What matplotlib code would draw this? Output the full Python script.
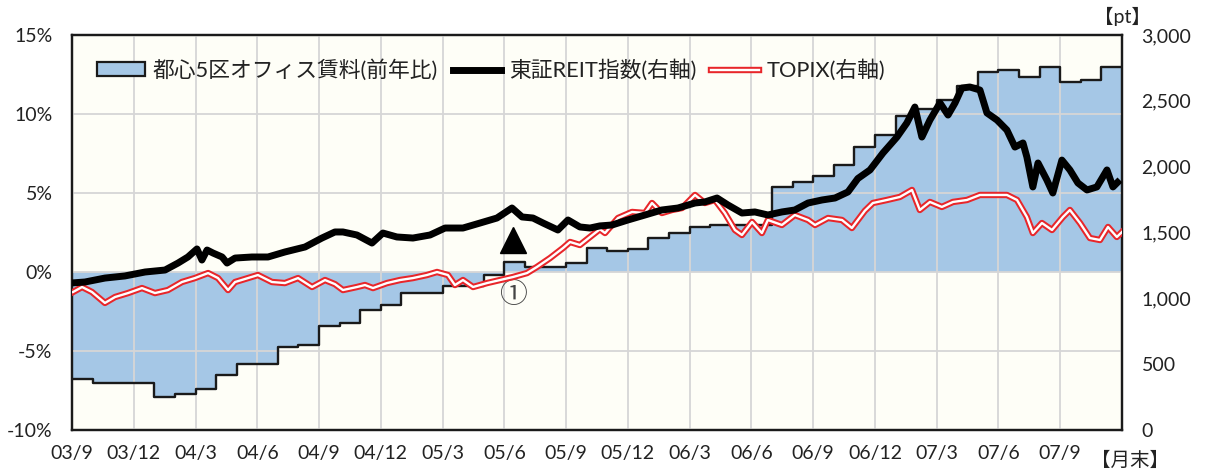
import matplotlib
matplotlib.use("Agg")
import matplotlib.pyplot as plt
from matplotlib.lines import Line2D
from matplotlib.patches import Rectangle
import numpy as np

plt.rcParams['font.family'] = ['Lato', 'Noto Sans CJK JP', 'DejaVu Sans']

# Quarter-end labels along the time axis (month 0 = end of Sep 2003)
quarter_labels = ["03/9", "03/12", "04/3", "04/6", "04/9", "04/12", "05/3", "05/6",
                  "05/9", "05/12", "06/3", "06/6", "06/9", "06/12", "07/3", "07/6", "07/9"]

# Central 5 wards office rent, year-on-year change (%), one value per month
rent_yoy = [-6.8, -7.0, -7.0, -7.0, -7.9, -7.7, -7.4, -6.5, -5.8, -5.8,
            -4.75, -4.6, -3.4, -3.2, -2.4, -2.1, -1.3, -1.35, -0.9, -0.9,
            -0.2, 0.65, 0.3, 0.3, 0.55, 1.5, 1.35, 1.45, 2.15, 2.5,
            2.85, 3.0, 3.0, 3.0, 5.4, 5.7, 6.1, 6.8, 7.9, 8.7,
            9.9, 10.3, 10.9, 11.8, 12.65, 12.8, 12.35, 12.95, 12.0, 12.15,
            12.95]

# TSE REIT index (pt): months elapsed since end of Sep 2003, index level
reit_t = [0.0, 0.63, 1.6, 2.57, 3.55, 4.52, 5.15, 5.63, 6.07, 6.31, 6.56, 6.85,
          7.29, 7.53, 7.92, 8.74, 9.52, 10.34, 11.32, 12.14, 12.77, 13.16, 13.84,
          14.57, 15.1, 15.78, 16.56, 17.39, 18.12, 18.99, 19.82, 20.64, 21.37,
          21.86, 22.39, 22.88, 23.6, 24.09, 24.67, 25.16, 25.64, 26.23, 27.0,
          27.83, 28.65, 29.43, 30.26, 30.74, 31.33, 31.86, 32.54, 33.17, 33.8,
          34.48, 35.11, 35.75, 36.43, 37.06, 37.69, 38.17, 38.76, 39.39, 40.07,
          40.55, 40.94, 41.28, 41.67, 42.16, 42.55, 42.89, 43.22, 43.61, 44.1,
          44.44, 44.93, 45.41, 45.8, 46.19, 46.38, 46.67, 46.92, 47.35, 47.64,
          48.08, 48.47, 48.86, 49.3, 49.78, 50.27, 50.56, 50.9]
reit_v = [1117, 1124, 1154, 1170, 1200, 1215, 1268, 1314, 1375, 1291, 1367, 1344,
          1314, 1268, 1306, 1314, 1314, 1352, 1390, 1458, 1504, 1504, 1481,
          1420, 1496, 1466, 1458, 1481, 1534, 1534, 1572, 1610, 1686,
          1618, 1610, 1572, 1519, 1595, 1542, 1534, 1550, 1557, 1595,
          1633, 1671, 1686, 1724, 1732, 1762, 1709, 1648, 1656, 1633,
          1656, 1671, 1724, 1747, 1762, 1808, 1910, 1975, 2104, 2225,
          2332, 2453, 2225, 2354, 2484, 2392, 2484, 2597, 2605, 2582,
          2408, 2354, 2278, 2149, 2180, 2073, 1846, 2028, 1899, 1800,
          2050, 1975, 1876, 1823, 1846, 1975, 1846, 1899]

# TOPIX (pt): months elapsed since end of Sep 2003, index level
topix_t = [0.05, 0.49, 0.97, 1.6, 2.09, 2.72, 3.4, 4.03, 4.66, 5.34, 5.97, 6.61,
           7.09, 7.58, 7.92, 8.55, 9.03, 9.71, 10.34, 10.98, 11.66, 12.29, 12.77,
           13.16, 13.84, 14.23, 14.62, 15.3, 15.93, 16.56, 17.24, 17.73, 18.26,
           18.6, 18.99, 19.48, 20.16, 20.79, 21.42, 22.1, 22.58, 23.22, 23.85,
           24.19, 24.67, 25.16, 25.64, 25.89, 26.52, 27.2, 27.83, 28.17, 28.65,
           29.14, 29.63, 30.26, 30.74, 31.23, 31.71, 32.2, 32.54, 33.03, 33.51,
           33.8, 34.48, 35.11, 35.75, 36.09, 36.72, 37.4, 37.88, 38.51, 38.9,
           39.58, 40.21, 40.8, 41.18, 41.67, 42.25, 42.79, 43.47, 44.1, 44.73,
           45.41, 45.9, 46.38, 46.67, 47.11, 47.6, 48.13, 48.47, 48.96, 49.44,
           49.93, 50.32, 50.75, 51.0]
topix_v = [1048, 1086, 1048, 965, 1010, 1040, 1078, 1040, 1063, 1124, 1154, 1192,
           1154, 1063, 1124, 1154, 1177, 1124, 1116, 1154, 1086, 1139, 1108,
           1063, 1086, 1101, 1078, 1116, 1139, 1154, 1177, 1200, 1177,
           1101, 1139, 1086, 1116, 1139, 1162, 1192, 1238, 1306, 1382,
           1428, 1405, 1466, 1525, 1496, 1610, 1656, 1648, 1724, 1648,
           1671, 1686, 1785, 1724, 1747, 1648, 1519, 1481, 1580, 1496,
           1595, 1557, 1633, 1595, 1557, 1610, 1595, 1534, 1665, 1724,
           1747, 1770, 1823, 1671, 1732, 1694, 1732, 1747, 1785, 1785,
           1785, 1747, 1618, 1496, 1572, 1519, 1618, 1671, 1572, 1458,
           1443, 1542, 1466, 1504]

left_ticks = [-10, -5, 0, 5, 10, 15]
left_labels = ["-10%", "-5%", "0%", "5%", "10%", "15%"]
right_ticks = [0, 500, 1000, 1500, 2000, 2500, 3000]
right_labels = ["0", "500", "1,000", "1,500", "2,000", "2,500", "3,000"]

RENT_FILL = "#A5C7E6"
PLOT_BG = "#FEFEF7"
GRID = "#D6D6D6"
RED = "#E8262A"
REIT_LW = 5.0
TOPIX_LW, TOPIX_CORE_LW = 4.6, 1.7

fig = plt.figure(figsize=(12.06, 4.75), dpi=100, facecolor="white")
ax = fig.add_axes([72 / 1206, 45 / 475, 1050 / 1206, 395 / 475])
ax.set_facecolor(PLOT_BG)

# Monthly rent as a stepped area
n = len(rent_yoy)
sx = np.arange(n + 1)
sy = np.array(rent_yoy + [rent_yoy[-1]])
ax.fill_between(sx, 0, sy, step="post", color=RENT_FILL, lw=0, zorder=1)
ax.step(sx, sy, where="post", color="#1A1A1A", lw=1.7, zorder=3)

ax.set_xlim(0, n)
ax.set_ylim(-10, 15)
ax.set_xticks(np.arange(0, n, 3))
ax.set_xticklabels(quarter_labels)
ax.set_yticks(left_ticks)
ax.set_yticklabels(left_labels)
ax.set_axisbelow(False)
ax.grid(True, color=GRID, lw=1.3, zorder=2)
ax.tick_params(length=0, labelsize=14, colors="#222222")
ax.tick_params(axis="x", pad=11)
ax.tick_params(axis="y", pad=14)

# Indices on the right axis
ax2 = ax.twinx()
ax2.set_ylim(0, 3000)
ax2.set_yticks(right_ticks)
ax2.set_yticklabels(right_labels)
ax2.tick_params(length=0, labelsize=14, colors="#222222", pad=14)
ax2.plot(topix_t, topix_v, color=RED, lw=TOPIX_LW, solid_joinstyle="round", zorder=3)
ax2.plot(topix_t, topix_v, color="white", lw=TOPIX_CORE_LW, solid_joinstyle="round", zorder=4)
ax2.plot(reit_t, reit_v, color="black", lw=REIT_LW, solid_joinstyle="round",
         solid_capstyle="butt", zorder=5)

for a in (ax, ax2):
    for s in a.spines.values():
        s.set_color("#1A1A1A")
        s.set_linewidth(1.6)

# Event marker
ax.plot(21.4, 2.0, marker="^", ms=19, color="black", zorder=6)
ax.text(21.4, -1.45, "\u2460", ha="center", va="center", fontsize=20,
        color="#444444", family=["Noto Sans CJK JP", "DejaVu Sans"], zorder=6)

# Legend
h_rent = Rectangle((0, 0), 1, 1, facecolor=RENT_FILL, edgecolor="#1A1A1A", lw=1.6)
h_reit = Line2D([], [], color="black", lw=REIT_LW)
h_topix = (Line2D([], [], color=RED, lw=TOPIX_LW), Line2D([], [], color="white", lw=TOPIX_CORE_LW))
ax.legend([h_rent, h_reit, h_topix],
          ["都心5区オフィス賃料(前年比)", "東証REIT指数(右軸)", "TOPIX(右軸)"],
          loc="center left", bbox_to_anchor=(0.005, 0.911), ncol=3, frameon=False,
          fontsize=15.7, handlelength=2.2, handleheight=0.6, handletextpad=0.35,
          columnspacing=0.7, labelcolor="#222222")

fig.text(1122 / 1206, 1 - 16 / 475, "【pt】", ha="center", va="center",
         fontsize=14, color="#222222")
fig.text(1130 / 1206, 1 - 460 / 475, "【月末】", ha="center", va="center",
         fontsize=14, color="#222222")

fig.savefig("out.png", dpi=100, facecolor="white")
